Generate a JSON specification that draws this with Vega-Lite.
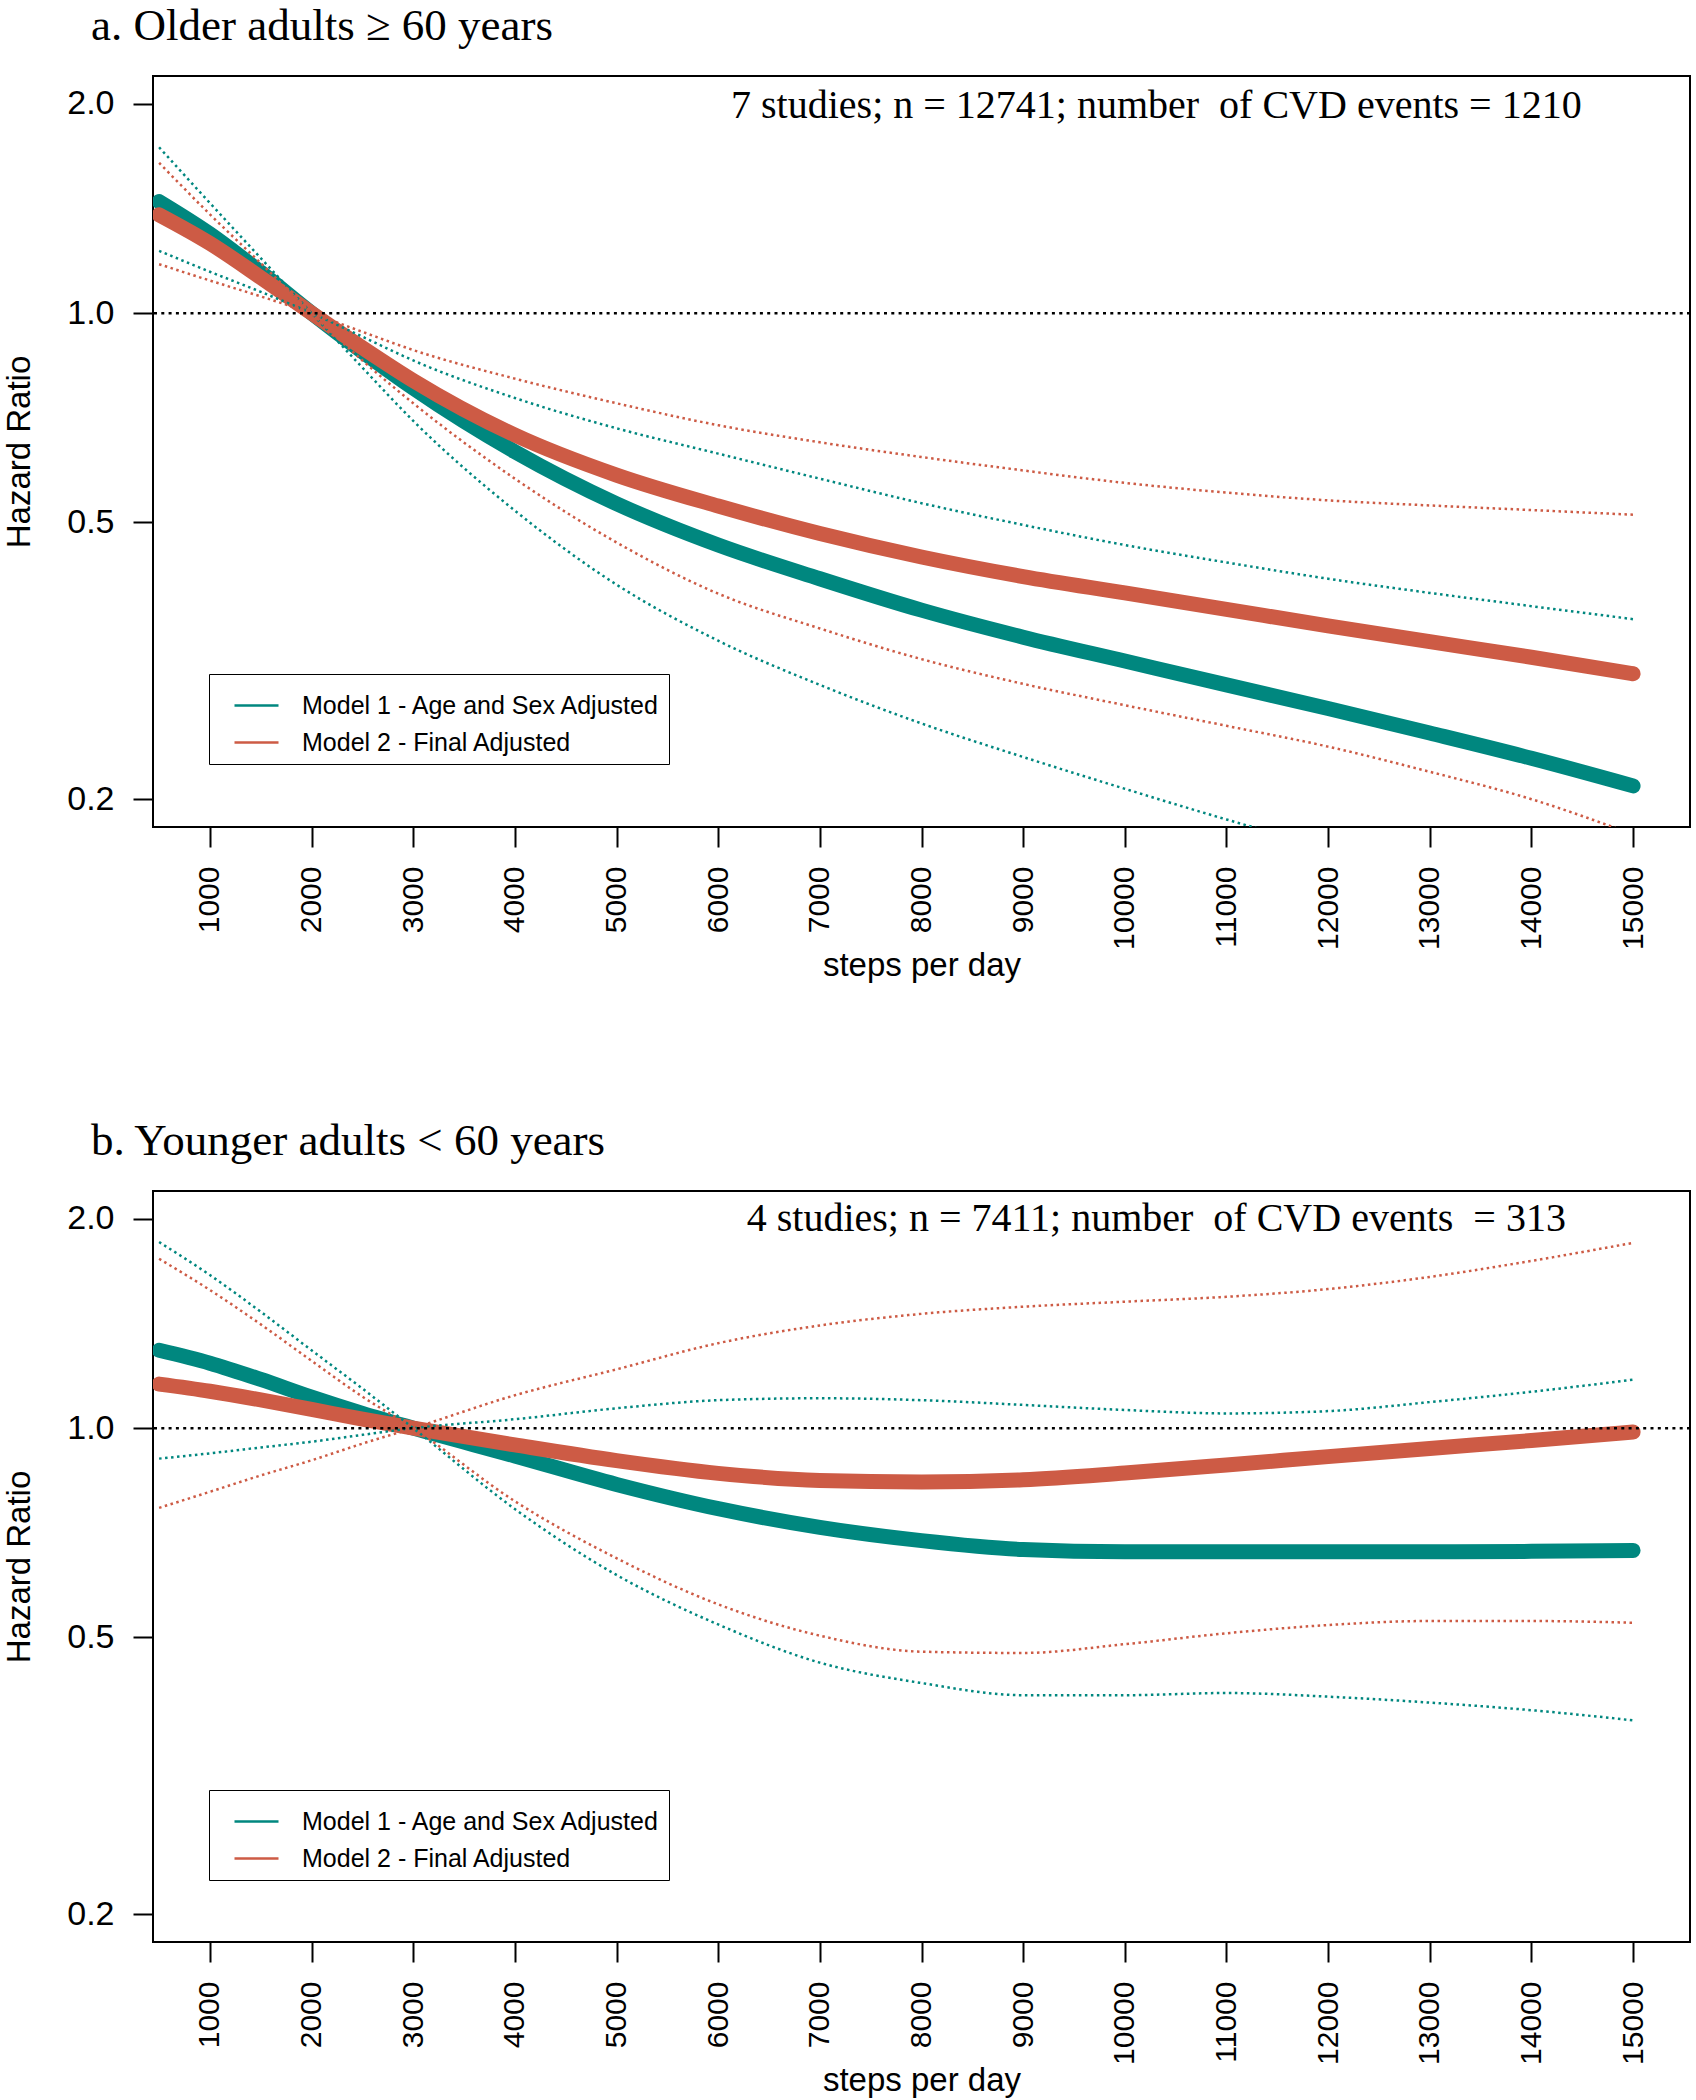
{
  "$schema": "https://vega.github.io/schema/vega-lite/v6.json",
  "background": "white",
  "padding": {"left": 2, "top": 3, "right": 5, "bottom": 5},
  "spacing": 134,
  "config": {
    "view": {"stroke": "black", "strokeWidth": 2},
    "axis": {"grid": false, "domain": false, "tickColor": "black", "tickWidth": 2, "tickSize": 20, "labelPadding": 19, "labelFont": "Liberation Sans", "labelColor": "black", "titleFont": "Liberation Sans", "titleFontSize": 33, "titleFontWeight": "normal", "titleColor": "black"},
    "title": {"anchor": "start", "frame": "group", "dx": -62, "font": "Liberation Serif", "fontSize": 45, "fontWeight": "normal", "color": "black", "offset": 27}
  },
  "resolve": {"legend": {"color": "independent"}},
  "datasets": {
    "a_est": [
      {"model": "Model 1 - Age and Sex Adjusted", "steps": 500, "hr": 1.447},
      {"model": "Model 1 - Age and Sex Adjusted", "steps": 1000, "hr": 1.30},
      {"model": "Model 1 - Age and Sex Adjusted", "steps": 1500, "hr": 1.145},
      {"model": "Model 1 - Age and Sex Adjusted", "steps": 2000, "hr": 1.0},
      {"model": "Model 1 - Age and Sex Adjusted", "steps": 2500, "hr": 0.88},
      {"model": "Model 1 - Age and Sex Adjusted", "steps": 3000, "hr": 0.78},
      {"model": "Model 1 - Age and Sex Adjusted", "steps": 4000, "hr": 0.632},
      {"model": "Model 1 - Age and Sex Adjusted", "steps": 5000, "hr": 0.532},
      {"model": "Model 1 - Age and Sex Adjusted", "steps": 6000, "hr": 0.464},
      {"model": "Model 1 - Age and Sex Adjusted", "steps": 7000, "hr": 0.415},
      {"model": "Model 1 - Age and Sex Adjusted", "steps": 8000, "hr": 0.374},
      {"model": "Model 1 - Age and Sex Adjusted", "steps": 9000, "hr": 0.342},
      {"model": "Model 1 - Age and Sex Adjusted", "steps": 10000, "hr": 0.316},
      {"model": "Model 1 - Age and Sex Adjusted", "steps": 11000, "hr": 0.292},
      {"model": "Model 1 - Age and Sex Adjusted", "steps": 12000, "hr": 0.270},
      {"model": "Model 1 - Age and Sex Adjusted", "steps": 13000, "hr": 0.249},
      {"model": "Model 1 - Age and Sex Adjusted", "steps": 14000, "hr": 0.229},
      {"model": "Model 1 - Age and Sex Adjusted", "steps": 15000, "hr": 0.209},
      {"model": "Model 2 - Final Adjusted", "steps": 500, "hr": 1.385},
      {"model": "Model 2 - Final Adjusted", "steps": 1000, "hr": 1.26},
      {"model": "Model 2 - Final Adjusted", "steps": 1500, "hr": 1.125},
      {"model": "Model 2 - Final Adjusted", "steps": 2000, "hr": 1.0},
      {"model": "Model 2 - Final Adjusted", "steps": 2500, "hr": 0.892},
      {"model": "Model 2 - Final Adjusted", "steps": 3000, "hr": 0.80},
      {"model": "Model 2 - Final Adjusted", "steps": 4000, "hr": 0.668},
      {"model": "Model 2 - Final Adjusted", "steps": 5000, "hr": 0.585},
      {"model": "Model 2 - Final Adjusted", "steps": 6000, "hr": 0.528},
      {"model": "Model 2 - Final Adjusted", "steps": 7000, "hr": 0.482},
      {"model": "Model 2 - Final Adjusted", "steps": 8000, "hr": 0.446},
      {"model": "Model 2 - Final Adjusted", "steps": 9000, "hr": 0.418},
      {"model": "Model 2 - Final Adjusted", "steps": 10000, "hr": 0.396},
      {"model": "Model 2 - Final Adjusted", "steps": 11000, "hr": 0.375},
      {"model": "Model 2 - Final Adjusted", "steps": 12000, "hr": 0.355},
      {"model": "Model 2 - Final Adjusted", "steps": 13000, "hr": 0.337},
      {"model": "Model 2 - Final Adjusted", "steps": 14000, "hr": 0.320},
      {"model": "Model 2 - Final Adjusted", "steps": 15000, "hr": 0.303}
    ],
    "a_ci": [
      {"model": "Model 1 - Age and Sex Adjusted", "line": "A", "steps": 500, "hr": 1.732},
      {"model": "Model 1 - Age and Sex Adjusted", "line": "A", "steps": 1000, "hr": 1.44},
      {"model": "Model 1 - Age and Sex Adjusted", "line": "A", "steps": 1500, "hr": 1.20},
      {"model": "Model 1 - Age and Sex Adjusted", "line": "A", "steps": 2000, "hr": 1.0},
      {"model": "Model 1 - Age and Sex Adjusted", "line": "A", "steps": 2500, "hr": 0.835},
      {"model": "Model 1 - Age and Sex Adjusted", "line": "A", "steps": 3000, "hr": 0.70},
      {"model": "Model 1 - Age and Sex Adjusted", "line": "A", "steps": 4000, "hr": 0.52},
      {"model": "Model 1 - Age and Sex Adjusted", "line": "A", "steps": 5000, "hr": 0.407},
      {"model": "Model 1 - Age and Sex Adjusted", "line": "A", "steps": 6000, "hr": 0.338},
      {"model": "Model 1 - Age and Sex Adjusted", "line": "A", "steps": 7000, "hr": 0.292},
      {"model": "Model 1 - Age and Sex Adjusted", "line": "A", "steps": 8000, "hr": 0.257},
      {"model": "Model 1 - Age and Sex Adjusted", "line": "A", "steps": 9000, "hr": 0.23},
      {"model": "Model 1 - Age and Sex Adjusted", "line": "A", "steps": 10000, "hr": 0.207},
      {"model": "Model 1 - Age and Sex Adjusted", "line": "A", "steps": 11000, "hr": 0.187},
      {"model": "Model 1 - Age and Sex Adjusted", "line": "A", "steps": 12000, "hr": 0.170},
      {"model": "Model 1 - Age and Sex Adjusted", "line": "A", "steps": 13000, "hr": 0.155},
      {"model": "Model 1 - Age and Sex Adjusted", "line": "B", "steps": 500, "hr": 1.229},
      {"model": "Model 1 - Age and Sex Adjusted", "line": "B", "steps": 1000, "hr": 1.147},
      {"model": "Model 1 - Age and Sex Adjusted", "line": "B", "steps": 1500, "hr": 1.073},
      {"model": "Model 1 - Age and Sex Adjusted", "line": "B", "steps": 2000, "hr": 1.0},
      {"model": "Model 1 - Age and Sex Adjusted", "line": "B", "steps": 2500, "hr": 0.925},
      {"model": "Model 1 - Age and Sex Adjusted", "line": "B", "steps": 3000, "hr": 0.855},
      {"model": "Model 1 - Age and Sex Adjusted", "line": "B", "steps": 4000, "hr": 0.755},
      {"model": "Model 1 - Age and Sex Adjusted", "line": "B", "steps": 5000, "hr": 0.683},
      {"model": "Model 1 - Age and Sex Adjusted", "line": "B", "steps": 6000, "hr": 0.628},
      {"model": "Model 1 - Age and Sex Adjusted", "line": "B", "steps": 7000, "hr": 0.578},
      {"model": "Model 1 - Age and Sex Adjusted", "line": "B", "steps": 8000, "hr": 0.533},
      {"model": "Model 1 - Age and Sex Adjusted", "line": "B", "steps": 9000, "hr": 0.496},
      {"model": "Model 1 - Age and Sex Adjusted", "line": "B", "steps": 10000, "hr": 0.464},
      {"model": "Model 1 - Age and Sex Adjusted", "line": "B", "steps": 11000, "hr": 0.438},
      {"model": "Model 1 - Age and Sex Adjusted", "line": "B", "steps": 12000, "hr": 0.415},
      {"model": "Model 1 - Age and Sex Adjusted", "line": "B", "steps": 13000, "hr": 0.396},
      {"model": "Model 1 - Age and Sex Adjusted", "line": "B", "steps": 14000, "hr": 0.379},
      {"model": "Model 1 - Age and Sex Adjusted", "line": "B", "steps": 15000, "hr": 0.363},
      {"model": "Model 2 - Final Adjusted", "line": "A", "steps": 500, "hr": 1.645},
      {"model": "Model 2 - Final Adjusted", "line": "A", "steps": 1000, "hr": 1.387},
      {"model": "Model 2 - Final Adjusted", "line": "A", "steps": 1500, "hr": 1.18},
      {"model": "Model 2 - Final Adjusted", "line": "A", "steps": 2000, "hr": 1.0},
      {"model": "Model 2 - Final Adjusted", "line": "A", "steps": 2500, "hr": 0.855},
      {"model": "Model 2 - Final Adjusted", "line": "A", "steps": 3000, "hr": 0.742},
      {"model": "Model 2 - Final Adjusted", "line": "A", "steps": 4000, "hr": 0.578},
      {"model": "Model 2 - Final Adjusted", "line": "A", "steps": 5000, "hr": 0.468},
      {"model": "Model 2 - Final Adjusted", "line": "A", "steps": 6000, "hr": 0.395},
      {"model": "Model 2 - Final Adjusted", "line": "A", "steps": 7000, "hr": 0.352},
      {"model": "Model 2 - Final Adjusted", "line": "A", "steps": 8000, "hr": 0.318},
      {"model": "Model 2 - Final Adjusted", "line": "A", "steps": 9000, "hr": 0.293},
      {"model": "Model 2 - Final Adjusted", "line": "A", "steps": 10000, "hr": 0.273},
      {"model": "Model 2 - Final Adjusted", "line": "A", "steps": 11000, "hr": 0.255},
      {"model": "Model 2 - Final Adjusted", "line": "A", "steps": 12000, "hr": 0.238},
      {"model": "Model 2 - Final Adjusted", "line": "A", "steps": 13000, "hr": 0.219},
      {"model": "Model 2 - Final Adjusted", "line": "A", "steps": 14000, "hr": 0.200},
      {"model": "Model 2 - Final Adjusted", "line": "A", "steps": 15000, "hr": 0.178},
      {"model": "Model 2 - Final Adjusted", "line": "B", "steps": 500, "hr": 1.176},
      {"model": "Model 2 - Final Adjusted", "line": "B", "steps": 1000, "hr": 1.114},
      {"model": "Model 2 - Final Adjusted", "line": "B", "steps": 1500, "hr": 1.057},
      {"model": "Model 2 - Final Adjusted", "line": "B", "steps": 2000, "hr": 1.0},
      {"model": "Model 2 - Final Adjusted", "line": "B", "steps": 2500, "hr": 0.94},
      {"model": "Model 2 - Final Adjusted", "line": "B", "steps": 3000, "hr": 0.885},
      {"model": "Model 2 - Final Adjusted", "line": "B", "steps": 4000, "hr": 0.805},
      {"model": "Model 2 - Final Adjusted", "line": "B", "steps": 5000, "hr": 0.742},
      {"model": "Model 2 - Final Adjusted", "line": "B", "steps": 6000, "hr": 0.69},
      {"model": "Model 2 - Final Adjusted", "line": "B", "steps": 7000, "hr": 0.652},
      {"model": "Model 2 - Final Adjusted", "line": "B", "steps": 8000, "hr": 0.621},
      {"model": "Model 2 - Final Adjusted", "line": "B", "steps": 9000, "hr": 0.594},
      {"model": "Model 2 - Final Adjusted", "line": "B", "steps": 10000, "hr": 0.57},
      {"model": "Model 2 - Final Adjusted", "line": "B", "steps": 11000, "hr": 0.552},
      {"model": "Model 2 - Final Adjusted", "line": "B", "steps": 12000, "hr": 0.538},
      {"model": "Model 2 - Final Adjusted", "line": "B", "steps": 13000, "hr": 0.529},
      {"model": "Model 2 - Final Adjusted", "line": "B", "steps": 14000, "hr": 0.521},
      {"model": "Model 2 - Final Adjusted", "line": "B", "steps": 15000, "hr": 0.513}
    ],
    "b_est": [
      {"model": "Model 1 - Age and Sex Adjusted", "steps": 500, "hr": 1.294},
      {"model": "Model 1 - Age and Sex Adjusted", "steps": 1000, "hr": 1.24},
      {"model": "Model 1 - Age and Sex Adjusted", "steps": 1500, "hr": 1.175},
      {"model": "Model 1 - Age and Sex Adjusted", "steps": 2000, "hr": 1.108},
      {"model": "Model 1 - Age and Sex Adjusted", "steps": 2500, "hr": 1.05},
      {"model": "Model 1 - Age and Sex Adjusted", "steps": 3000, "hr": 1.0},
      {"model": "Model 1 - Age and Sex Adjusted", "steps": 4000, "hr": 0.912},
      {"model": "Model 1 - Age and Sex Adjusted", "steps": 5000, "hr": 0.83},
      {"model": "Model 1 - Age and Sex Adjusted", "steps": 6000, "hr": 0.766},
      {"model": "Model 1 - Age and Sex Adjusted", "steps": 7000, "hr": 0.72},
      {"model": "Model 1 - Age and Sex Adjusted", "steps": 8000, "hr": 0.689},
      {"model": "Model 1 - Age and Sex Adjusted", "steps": 9000, "hr": 0.669},
      {"model": "Model 1 - Age and Sex Adjusted", "steps": 10000, "hr": 0.664},
      {"model": "Model 1 - Age and Sex Adjusted", "steps": 11000, "hr": 0.664},
      {"model": "Model 1 - Age and Sex Adjusted", "steps": 12000, "hr": 0.664},
      {"model": "Model 1 - Age and Sex Adjusted", "steps": 13000, "hr": 0.664},
      {"model": "Model 1 - Age and Sex Adjusted", "steps": 14000, "hr": 0.665},
      {"model": "Model 1 - Age and Sex Adjusted", "steps": 15000, "hr": 0.667},
      {"model": "Model 2 - Final Adjusted", "steps": 500, "hr": 1.157},
      {"model": "Model 2 - Final Adjusted", "steps": 1000, "hr": 1.13},
      {"model": "Model 2 - Final Adjusted", "steps": 1500, "hr": 1.098},
      {"model": "Model 2 - Final Adjusted", "steps": 2000, "hr": 1.064},
      {"model": "Model 2 - Final Adjusted", "steps": 2500, "hr": 1.03},
      {"model": "Model 2 - Final Adjusted", "steps": 3000, "hr": 1.0},
      {"model": "Model 2 - Final Adjusted", "steps": 4000, "hr": 0.946},
      {"model": "Model 2 - Final Adjusted", "steps": 5000, "hr": 0.898},
      {"model": "Model 2 - Final Adjusted", "steps": 6000, "hr": 0.861},
      {"model": "Model 2 - Final Adjusted", "steps": 7000, "hr": 0.841},
      {"model": "Model 2 - Final Adjusted", "steps": 8000, "hr": 0.837},
      {"model": "Model 2 - Final Adjusted", "steps": 9000, "hr": 0.843},
      {"model": "Model 2 - Final Adjusted", "steps": 10000, "hr": 0.862},
      {"model": "Model 2 - Final Adjusted", "steps": 11000, "hr": 0.885},
      {"model": "Model 2 - Final Adjusted", "steps": 12000, "hr": 0.910},
      {"model": "Model 2 - Final Adjusted", "steps": 13000, "hr": 0.935},
      {"model": "Model 2 - Final Adjusted", "steps": 14000, "hr": 0.960},
      {"model": "Model 2 - Final Adjusted", "steps": 15000, "hr": 0.987}
    ],
    "b_ci": [
      {"model": "Model 1 - Age and Sex Adjusted", "line": "A", "steps": 500, "hr": 1.852},
      {"model": "Model 1 - Age and Sex Adjusted", "line": "A", "steps": 1000, "hr": 1.66},
      {"model": "Model 1 - Age and Sex Adjusted", "line": "A", "steps": 1500, "hr": 1.47},
      {"model": "Model 1 - Age and Sex Adjusted", "line": "A", "steps": 2000, "hr": 1.294},
      {"model": "Model 1 - Age and Sex Adjusted", "line": "A", "steps": 2500, "hr": 1.14},
      {"model": "Model 1 - Age and Sex Adjusted", "line": "A", "steps": 3000, "hr": 1.0},
      {"model": "Model 1 - Age and Sex Adjusted", "line": "A", "steps": 4000, "hr": 0.765},
      {"model": "Model 1 - Age and Sex Adjusted", "line": "A", "steps": 5000, "hr": 0.615},
      {"model": "Model 1 - Age and Sex Adjusted", "line": "A", "steps": 6000, "hr": 0.522},
      {"model": "Model 1 - Age and Sex Adjusted", "line": "A", "steps": 7000, "hr": 0.46},
      {"model": "Model 1 - Age and Sex Adjusted", "line": "A", "steps": 8000, "hr": 0.43},
      {"model": "Model 1 - Age and Sex Adjusted", "line": "A", "steps": 9000, "hr": 0.413},
      {"model": "Model 1 - Age and Sex Adjusted", "line": "A", "steps": 10000, "hr": 0.413},
      {"model": "Model 1 - Age and Sex Adjusted", "line": "A", "steps": 11000, "hr": 0.416},
      {"model": "Model 1 - Age and Sex Adjusted", "line": "A", "steps": 12000, "hr": 0.411},
      {"model": "Model 1 - Age and Sex Adjusted", "line": "A", "steps": 13000, "hr": 0.403},
      {"model": "Model 1 - Age and Sex Adjusted", "line": "A", "steps": 14000, "hr": 0.393},
      {"model": "Model 1 - Age and Sex Adjusted", "line": "A", "steps": 15000, "hr": 0.38},
      {"model": "Model 1 - Age and Sex Adjusted", "line": "B", "steps": 500, "hr": 0.904},
      {"model": "Model 1 - Age and Sex Adjusted", "line": "B", "steps": 1000, "hr": 0.92},
      {"model": "Model 1 - Age and Sex Adjusted", "line": "B", "steps": 1500, "hr": 0.938},
      {"model": "Model 1 - Age and Sex Adjusted", "line": "B", "steps": 2000, "hr": 0.956},
      {"model": "Model 1 - Age and Sex Adjusted", "line": "B", "steps": 2500, "hr": 0.978},
      {"model": "Model 1 - Age and Sex Adjusted", "line": "B", "steps": 3000, "hr": 1.0},
      {"model": "Model 1 - Age and Sex Adjusted", "line": "B", "steps": 4000, "hr": 1.03},
      {"model": "Model 1 - Age and Sex Adjusted", "line": "B", "steps": 5000, "hr": 1.068},
      {"model": "Model 1 - Age and Sex Adjusted", "line": "B", "steps": 6000, "hr": 1.097},
      {"model": "Model 1 - Age and Sex Adjusted", "line": "B", "steps": 7000, "hr": 1.104},
      {"model": "Model 1 - Age and Sex Adjusted", "line": "B", "steps": 8000, "hr": 1.097},
      {"model": "Model 1 - Age and Sex Adjusted", "line": "B", "steps": 9000, "hr": 1.08},
      {"model": "Model 1 - Age and Sex Adjusted", "line": "B", "steps": 10000, "hr": 1.062},
      {"model": "Model 1 - Age and Sex Adjusted", "line": "B", "steps": 11000, "hr": 1.05},
      {"model": "Model 1 - Age and Sex Adjusted", "line": "B", "steps": 12000, "hr": 1.058},
      {"model": "Model 1 - Age and Sex Adjusted", "line": "B", "steps": 13000, "hr": 1.09},
      {"model": "Model 1 - Age and Sex Adjusted", "line": "B", "steps": 14000, "hr": 1.128},
      {"model": "Model 1 - Age and Sex Adjusted", "line": "B", "steps": 15000, "hr": 1.174},
      {"model": "Model 2 - Final Adjusted", "line": "A", "steps": 500, "hr": 1.752},
      {"model": "Model 2 - Final Adjusted", "line": "A", "steps": 1000, "hr": 1.58},
      {"model": "Model 2 - Final Adjusted", "line": "A", "steps": 1500, "hr": 1.41},
      {"model": "Model 2 - Final Adjusted", "line": "A", "steps": 2000, "hr": 1.25},
      {"model": "Model 2 - Final Adjusted", "line": "A", "steps": 2500, "hr": 1.11},
      {"model": "Model 2 - Final Adjusted", "line": "A", "steps": 3000, "hr": 1.0},
      {"model": "Model 2 - Final Adjusted", "line": "A", "steps": 4000, "hr": 0.785},
      {"model": "Model 2 - Final Adjusted", "line": "A", "steps": 5000, "hr": 0.65},
      {"model": "Model 2 - Final Adjusted", "line": "A", "steps": 6000, "hr": 0.558},
      {"model": "Model 2 - Final Adjusted", "line": "A", "steps": 7000, "hr": 0.503},
      {"model": "Model 2 - Final Adjusted", "line": "A", "steps": 8000, "hr": 0.477},
      {"model": "Model 2 - Final Adjusted", "line": "A", "steps": 9000, "hr": 0.475},
      {"model": "Model 2 - Final Adjusted", "line": "A", "steps": 10000, "hr": 0.489},
      {"model": "Model 2 - Final Adjusted", "line": "A", "steps": 11000, "hr": 0.507},
      {"model": "Model 2 - Final Adjusted", "line": "A", "steps": 12000, "hr": 0.521},
      {"model": "Model 2 - Final Adjusted", "line": "A", "steps": 13000, "hr": 0.528},
      {"model": "Model 2 - Final Adjusted", "line": "A", "steps": 14000, "hr": 0.528},
      {"model": "Model 2 - Final Adjusted", "line": "A", "steps": 15000, "hr": 0.525},
      {"model": "Model 2 - Final Adjusted", "line": "B", "steps": 500, "hr": 0.768},
      {"model": "Model 2 - Final Adjusted", "line": "B", "steps": 1000, "hr": 0.81},
      {"model": "Model 2 - Final Adjusted", "line": "B", "steps": 1500, "hr": 0.855},
      {"model": "Model 2 - Final Adjusted", "line": "B", "steps": 2000, "hr": 0.899},
      {"model": "Model 2 - Final Adjusted", "line": "B", "steps": 2500, "hr": 0.95},
      {"model": "Model 2 - Final Adjusted", "line": "B", "steps": 3000, "hr": 1.0},
      {"model": "Model 2 - Final Adjusted", "line": "B", "steps": 4000, "hr": 1.115},
      {"model": "Model 2 - Final Adjusted", "line": "B", "steps": 5000, "hr": 1.215},
      {"model": "Model 2 - Final Adjusted", "line": "B", "steps": 6000, "hr": 1.325},
      {"model": "Model 2 - Final Adjusted", "line": "B", "steps": 7000, "hr": 1.405},
      {"model": "Model 2 - Final Adjusted", "line": "B", "steps": 8000, "hr": 1.46},
      {"model": "Model 2 - Final Adjusted", "line": "B", "steps": 9000, "hr": 1.495},
      {"model": "Model 2 - Final Adjusted", "line": "B", "steps": 10000, "hr": 1.52},
      {"model": "Model 2 - Final Adjusted", "line": "B", "steps": 11000, "hr": 1.545},
      {"model": "Model 2 - Final Adjusted", "line": "B", "steps": 12000, "hr": 1.585},
      {"model": "Model 2 - Final Adjusted", "line": "B", "steps": 13000, "hr": 1.65},
      {"model": "Model 2 - Final Adjusted", "line": "B", "steps": 14000, "hr": 1.74},
      {"model": "Model 2 - Final Adjusted", "line": "B", "steps": 15000, "hr": 1.847}
    ],
    "a_note": [{"steps": 10310, "hr": 1.984, "label": "7 studies; n = 12741; number\u00a0 of CVD events = 1210"}],
    "b_note": [{"steps": 10310, "hr": 2.0, "label": "4 studies; n = 7411; number\u00a0 of CVD events\u00a0 = 313"}],
    "ref": [{"hr": 1.0}]
  },
  "vconcat": [
    {
      "title": {"text": "a. Older adults ≥ 60 years"},
      "width": 1537,
      "height": 751,
      "layer": [
        {
          "data": {"name": "a_est"},
          "mark": {"type": "line", "strokeWidth": 15, "strokeCap": "round", "strokeJoin": "round", "interpolate": "monotone", "clip": true},
          "encoding": {
            "x": {"field": "steps", "type": "quantitative", "scale": {"domain": [440, 15560], "nice": false, "zero": false}, "axis": {"values": [1000, 2000, 3000, 4000, 5000, 6000, 7000, 8000, 9000, 10000, 11000, 12000, 13000, 14000, 15000], "format": "d", "labelAngle": -90, "labelFontSize": 30, "title": "steps per day", "titlePadding": 0}},
            "y": {"field": "hr", "type": "quantitative", "scale": {"type": "log", "domain": [0.1824, 2.193], "nice": false}, "axis": {"values": [0.2, 0.5, 1, 2], "format": ".1f", "labelFontSize": 34, "title": "Hazard Ratio", "titlePadding": 30}},
            "color": {"field": "model", "type": "nominal", "scale": {"domain": ["Model 1 - Age and Sex Adjusted", "Model 2 - Final Adjusted"], "range": ["#00877f", "#cd5b45"]}, "legend": {"title": null, "orient": "none", "legendX": 56, "legendY": 598, "strokeColor": "black", "fillColor": "white", "padding": 8, "symbolType": "stroke", "symbolStrokeWidth": 2.5, "symbolSize": 1936, "symbolOffset": 16, "labelFont": "Liberation Sans", "labelFontSize": 25, "labelLimit": 0, "labelColor": "black", "labelOffset": 22, "rowPadding": -14}}
          }
        },
        {
          "data": {"name": "a_ci"},
          "mark": {"type": "line", "strokeWidth": 2.5, "strokeDash": [2.5, 3.5], "interpolate": "monotone", "clip": true},
          "encoding": {
            "x": {"field": "steps", "type": "quantitative"},
            "y": {"field": "hr", "type": "quantitative"},
            "color": {"field": "model", "type": "nominal"},
            "detail": {"field": "line", "type": "nominal"}
          }
        },
        {
          "data": {"name": "ref"},
          "mark": {"type": "rule", "color": "black", "strokeWidth": 2.5, "strokeDash": [3, 4.3]},
          "encoding": {"y": {"field": "hr", "type": "quantitative"}}
        },
        {
          "data": {"name": "a_note"},
          "mark": {"type": "text", "font": "Liberation Serif", "fontSize": 40, "color": "black", "align": "center", "baseline": "middle"},
          "encoding": {"x": {"field": "steps", "type": "quantitative"}, "y": {"field": "hr", "type": "quantitative"}, "text": {"field": "label"}}
        }
      ]
    },
    {
      "title": {"text": "b. Younger adults < 60 years"},
      "width": 1537,
      "height": 751,
      "layer": [
        {
          "data": {"name": "b_est"},
          "mark": {"type": "line", "strokeWidth": 15, "strokeCap": "round", "strokeJoin": "round", "interpolate": "monotone", "clip": true},
          "encoding": {
            "x": {"field": "steps", "type": "quantitative", "scale": {"domain": [440, 15560], "nice": false, "zero": false}, "axis": {"values": [1000, 2000, 3000, 4000, 5000, 6000, 7000, 8000, 9000, 10000, 11000, 12000, 13000, 14000, 15000], "format": "d", "labelAngle": -90, "labelFontSize": 30, "title": "steps per day", "titlePadding": 0}},
            "y": {"field": "hr", "type": "quantitative", "scale": {"type": "log", "domain": [0.1824, 2.193], "nice": false}, "axis": {"values": [0.2, 0.5, 1, 2], "format": ".1f", "labelFontSize": 34, "title": "Hazard Ratio", "titlePadding": 30}},
            "color": {"field": "model", "type": "nominal", "scale": {"domain": ["Model 1 - Age and Sex Adjusted", "Model 2 - Final Adjusted"], "range": ["#00877f", "#cd5b45"]}, "legend": {"title": null, "orient": "none", "legendX": 56, "legendY": 599, "strokeColor": "black", "fillColor": "white", "padding": 8, "symbolType": "stroke", "symbolStrokeWidth": 2.5, "symbolSize": 1936, "symbolOffset": 16, "labelFont": "Liberation Sans", "labelFontSize": 25, "labelLimit": 0, "labelColor": "black", "labelOffset": 22, "rowPadding": -14}}
          }
        },
        {
          "data": {"name": "b_ci"},
          "mark": {"type": "line", "strokeWidth": 2.5, "strokeDash": [2.5, 3.5], "interpolate": "monotone", "clip": true},
          "encoding": {
            "x": {"field": "steps", "type": "quantitative"},
            "y": {"field": "hr", "type": "quantitative"},
            "color": {"field": "model", "type": "nominal"},
            "detail": {"field": "line", "type": "nominal"}
          }
        },
        {
          "data": {"name": "ref"},
          "mark": {"type": "rule", "color": "black", "strokeWidth": 2.5, "strokeDash": [3, 4.3]},
          "encoding": {"y": {"field": "hr", "type": "quantitative"}}
        },
        {
          "data": {"name": "b_note"},
          "mark": {"type": "text", "font": "Liberation Serif", "fontSize": 40, "color": "black", "align": "center", "baseline": "middle"},
          "encoding": {"x": {"field": "steps", "type": "quantitative"}, "y": {"field": "hr", "type": "quantitative"}, "text": {"field": "label"}}
        }
      ]
    }
  ]
}
